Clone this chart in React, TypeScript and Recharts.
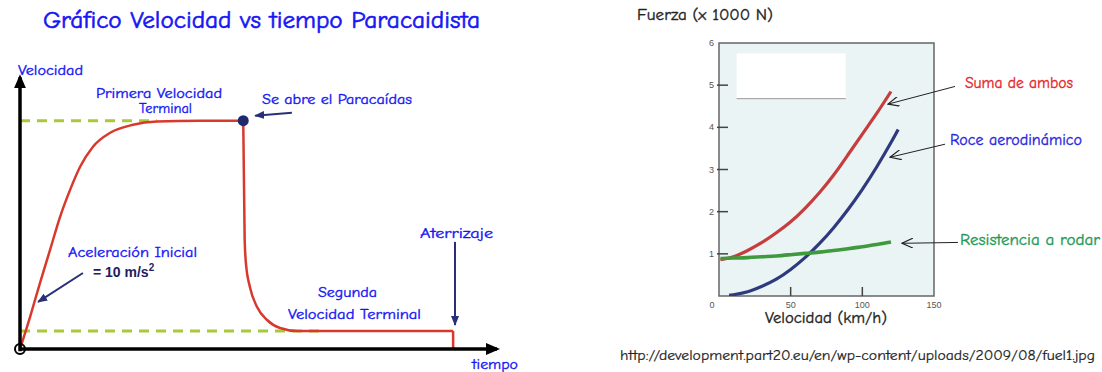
import React from "react";
import { LineChart, Line, XAxis, YAxis, ReferenceLine, ReferenceDot, ReferenceArea } from "recharts";

// --- left panel: parachutist speed vs time (arbitrary units) ---
const riseTime = [0, 2.1, 4.2, 6.3, 8.4, 10.5, 12.6, 15.3, 18.9, 23.7, 28.7, 37.7, 46.8];
const riseSpeed = [0, 14, 29, 43.4, 57.9, 69.7, 79.8, 88.6, 94.7, 98.2, 99.6, 100, 100];
const dropTime = [46.8, 47.1, 47.4, 48.2, 49.7, 51.8, 54.5, 58.1, 90.8];
const dropSpeed = [100, 47.8, 36.8, 27.2, 18.4, 12.7, 9.2, 7.9, 7.9];
const landTime = [90.8, 90.8];
const landSpeed = [7.9, 0];
const firstTerminal = 100;
const secondTerminal = 7.9;

// --- right panel: force vs speed ---
const speeds = [1, 7, 10, 20, 30, 40, 50, 60, 70, 80, 90, 100, 110, 120, 125];
const sumaAmbos = [0.86, null, 0.93, 1.08, 1.27, 1.5, 1.76, 2.08, 2.45, 2.87, 3.35, 3.84, 4.33, 4.85, null];
const roceAero = [null, 0.02, 0.03, 0.1, 0.23, 0.4, 0.63, 0.91, 1.24, 1.62, 2.05, 2.53, 3.06, 3.64, 3.95];
const resistRodar = [0.89, null, 0.9, 0.91, 0.93, 0.95, 0.98, 1.01, 1.04, 1.08, 1.12, 1.17, 1.22, 1.28, null];
const forceTicks = [1, 2, 3, 4, 5, 6];
const speedTicks = [0, 50, 100, 150];

const pair = (xs: number[], ys: number[]) => xs.map((t, i) => ({ t, v: ys[i] }));
const riseData = pair(riseTime, riseSpeed);
const dropData = pair(dropTime, dropSpeed);
const landData = pair(landTime, landSpeed);
const forceData = speeds.map((v, i) => ({ v, suma: sumaAmbos[i], roce: roceAero[i], rodar: resistRodar[i] }));

const comic = "'Comic Sans MS', 'Comic Neue', 'DejaVu Sans', sans-serif";

function arrowShape(marker: string, color: string, width: number) {
  return (p: any) => (
    <line x1={p.x1} y1={p.y1} x2={p.x2} y2={p.y2} stroke={color} strokeWidth={width} markerEnd={`url(#${marker})`} />
  );
}

function T({ x, y, w, size, color, children, heavy = 0.35 }: any) {
  return (
    <text x={x} y={y} fontSize={size} fill={color} stroke={color} strokeWidth={heavy} fontFamily={comic}
      textLength={w} lengthAdjust="spacingAndGlyphs">
      {children}
    </text>
  );
}

function XTick({ x, y, payload }: any) {
  const v = payload.value;
  return (
    <g>
      {v === 50 || v === 100 ? <line x1={x} y1={y} x2={x} y2={y - 9} stroke="#444" strokeWidth={1.5} /> : null}
      <text x={v === 0 ? x - 7 : x} y={y + 12} fontSize={9} fill="#555" textAnchor="middle" fontFamily="Arial, 'Liberation Sans', sans-serif">
        {v}
      </text>
    </g>
  );
}

function YTick({ x, y, payload }: any) {
  const v = payload.value;
  return (
    <g>
      {v !== 6 ? <line x1={x - 2} y1={y} x2={x + 9} y2={y} stroke="#444" strokeWidth={1.5} /> : null}
      <text x={x - 5} y={y + 3} fontSize={9} fill="#555" textAnchor="end" fontFamily="Arial, 'Liberation Sans', sans-serif">
        {v}
      </text>
    </g>
  );
}

export default function App() {
  return (
    <div style={{ position: "absolute", left: 0, top: 0, width: 1102, height: 372, background: "#fff", overflow: "hidden" }}>
      <svg width="0" height="0" style={{ position: "absolute" }}>
        <defs>
          <marker id="axisArrow" markerWidth="14" markerHeight="12" refX="11" refY="6" orient="auto" markerUnits="userSpaceOnUse">
            <path d="M0,0 L14,6 L0,12 z" fill="#000" />
          </marker>
          <marker id="navyArrow" markerWidth="10" markerHeight="8" refX="9" refY="4" orient="auto" markerUnits="userSpaceOnUse">
            <path d="M0,0 L10,4 L0,8 z" fill="#283079" />
          </marker>
          <marker id="openArrow" markerWidth="12" markerHeight="10" refX="11" refY="5" orient="auto" markerUnits="userSpaceOnUse">
            <path d="M0,0 L11,5 L0,10" fill="none" stroke="#222" strokeWidth="1.2" />
          </marker>
        </defs>
      </svg>

      <div style={{ position: "absolute", left: 0, top: 0 }}>
        <LineChart width={520} height={372} margin={{ top: 75, right: 23, bottom: 23, left: 20 }}>
          <XAxis type="number" dataKey="t" domain={[0, 100]} hide allowDataOverflow />
          <YAxis type="number" domain={[0, 120]} hide allowDataOverflow />
          <ReferenceLine segment={[{ x: 0, y: firstTerminal }, { x: 28.7, y: firstTerminal }]} stroke="#a9c83b" strokeWidth={3} strokeDasharray="10 7" ifOverflow="visible" />
          <ReferenceLine segment={[{ x: 0, y: secondTerminal }, { x: 64, y: secondTerminal }]} stroke="#a9c83b" strokeWidth={3} strokeDasharray="10 7" ifOverflow="visible" />
          <Line data={riseData} dataKey="v" type="monotone" stroke="#d8392d" strokeWidth={2.5} dot={false} isAnimationActive={false} />
          <Line data={dropData} dataKey="v" type="monotone" stroke="#d8392d" strokeWidth={2.5} dot={false} isAnimationActive={false} />
          <Line data={landData} dataKey="v" type="linear" stroke="#d8392d" strokeWidth={2.5} dot={false} isAnimationActive={false} />
          <ReferenceLine segment={[{ x: 0, y: 0 }, { x: 100, y: 0 }]} ifOverflow="visible" shape={arrowShape("axisArrow", "#000", 3.5)} />
          <ReferenceLine segment={[{ x: 0, y: -1 }, { x: 0, y: 119 }]} ifOverflow="visible" shape={arrowShape("axisArrow", "#000", 3.5)} />
          <ReferenceDot x={0} y={0} r={5} fill="none" stroke="#000" strokeWidth={2} ifOverflow="visible" />
          <ReferenceDot x={46.8} y={firstTerminal} r={5.5} fill="#1f2a6e" stroke="none" ifOverflow="visible" />
          <ReferenceLine segment={[{ x: 57, y: 103.5 }, { x: 49.3, y: 102.2 }]} ifOverflow="visible" shape={arrowShape("navyArrow", "#283079", 2)} />
          <ReferenceLine segment={[{ x: 13.2, y: 33.3 }, { x: 3.8, y: 20.6 }]} ifOverflow="visible" shape={arrowShape("navyArrow", "#283079", 2)} />
          <ReferenceLine segment={[{ x: 91.2, y: 46.9 }, { x: 91.2, y: 10.5 }]} ifOverflow="visible" shape={arrowShape("navyArrow", "#283079", 2)} />
        </LineChart>
      </div>

      <div style={{ position: "absolute", left: 600, top: 0 }}>
        <LineChart width={502} height={372} data={forceData} margin={{ top: 43, right: 168, bottom: 56, left: 89 }}>
          <XAxis type="number" dataKey="v" domain={[0, 150]} ticks={speedTicks} interval={0} height={20}
            tickSize={0} tickMargin={0} axisLine={false} tickLine={false} tick={<XTick />} allowDataOverflow />
          <YAxis type="number" domain={[0, 6]} ticks={forceTicks} interval={0} width={30}
            tickSize={0} tickMargin={0} axisLine={false} tickLine={false} tick={<YTick />} allowDataOverflow />
          <ReferenceArea x1={0} x2={150} y1={0} y2={6} fill="#eaf4f5" fillOpacity={1} stroke="none" />
          <ReferenceArea x1={12.3} x2={88.4} y1={4.68} y2={5.75} fill="#fff" fillOpacity={1} stroke="none" />
          <ReferenceLine segment={[{ x: 12.3, y: 4.68 }, { x: 88.4, y: 4.68 }]} stroke="#999" strokeWidth={1} />
          <Line dataKey="suma" type="natural" stroke="#c73c3c" strokeWidth={3.2} dot={false} connectNulls isAnimationActive={false} />
          <Line dataKey="roce" type="natural" stroke="#2f3a7e" strokeWidth={3.2} dot={false} connectNulls isAnimationActive={false} />
          <Line dataKey="rodar" type="natural" stroke="#3f9a3d" strokeWidth={3.6} dot={false} connectNulls isAnimationActive={false} />
          <ReferenceArea x1={0} x2={150} y1={0} y2={6} fill="none" stroke="#666" strokeWidth={1.5} />
          <ReferenceLine segment={[{ x: 164.7, y: 4.97 }, { x: 117.9, y: 4.55 }]} ifOverflow="visible" shape={arrowShape("openArrow", "#222", 1)} />
          <ReferenceLine segment={[{ x: 157.7, y: 3.6 }, { x: 119.3, y: 3.29 }]} ifOverflow="visible" shape={arrowShape("openArrow", "#222", 1)} />
          <ReferenceLine segment={[{ x: 166.7, y: 1.27 }, { x: 127.7, y: 1.25 }]} ifOverflow="visible" shape={arrowShape("openArrow", "#222", 1)} />
        </LineChart>
      </div>

      <svg width={1102} height={372} style={{ position: "absolute", left: 0, top: 0, pointerEvents: "none" }}>
        <T x={43} y={28} w={437} size={24} color="#1616f5" heavy={0.6}>Gráfico Velocidad vs tiempo  Paracaidista</T>
        <T x={18} y={75} w={65} size={14} color="#1616f5">Velocidad</T>
        <T x={96} y={98} w={126} size={14} color="#1616f5">Primera Velocidad</T>
        <T x={139} y={113} w={53} size={14} color="#1616f5">Terminal</T>
        <T x={262} y={104} w={150} size={14} color="#1616f5">Se abre el Paracaídas</T>
        <T x={68} y={257} w={129} size={14} color="#1616f5">Aceleración Inicial</T>
        <text x={93} y={277} fontSize={14} fontWeight="bold" fill="#1e2060" fontFamily="Arial, 'Liberation Sans', sans-serif">
          = 10 m/s<tspan fontSize={10} dy={-6}>2</tspan>
        </text>
        <T x={318} y={297} w={59} size={14} color="#1616f5">Segunda</T>
        <T x={288} y={319} w={133} size={14} color="#1616f5">Velocidad Terminal</T>
        <T x={420} y={238} w={73} size={14} color="#1616f5">Aterrizaje</T>
        <T x={472} y={369} w={46} size={14} color="#1616f5">tiempo</T>

        <T x={637} y={20} w={136} size={16} color="#222">Fuerza (x 1000 N)</T>
        <T x={965} y={88} w={108} size={16} color="#e3262a">Suma de ambos</T>
        <T x={950} y={145} w={132} size={16} color="#2626e0">Roce aerodinámico</T>
        <T x={960} y={245} w={140} size={16} color="#1f9a58">Resistencia a rodar</T>
        <T x={765} y={323} w={122} size={16} color="#222">Velocidad (km/h)</T>
        <T x={620} y={360} w={475} size={14} color="#222" heavy={0.2}>http://development.part20.eu/en/wp-content/uploads/2009/08/fuel1.jpg</T>
      </svg>
    </div>
  );
}
